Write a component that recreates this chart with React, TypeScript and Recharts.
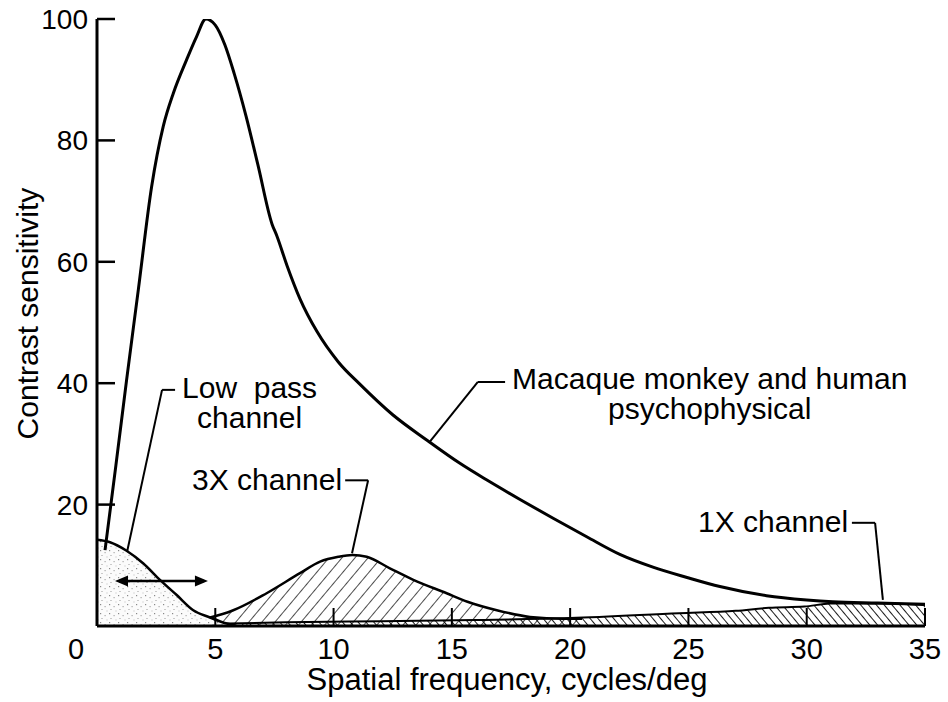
import React from 'react';
import { ComposedChart, Line, Area, XAxis, YAxis, ReferenceLine, ReferenceDot } from 'recharts';

const FONT = '"Liberation Sans", Arial, Helvetica, sans-serif';

// Axis ticks
const xTicks = [0, 5, 10, 15, 20, 25, 30, 35];
const yTicks = [20, 40, 60, 80, 100];

// Macaque monkey and human psychophysical
const macaqueX = [0.34, 0.8, 1.25, 1.75, 2.31, 2.8, 3.23, 3.79, 4.21, 4.6, 5.0, 5.4, 5.8, 6.3, 6.8, 7.4, 7.6, 8.03, 8.58, 9.3, 10.2, 11.12, 12.5, 13.95, 15.34, 16.5, 17.9, 19.3, 20.7, 22.1, 23.5, 24.94, 26.33, 28.3, 30, 31.1, 33, 35];
const macaqueY = [12.5, 26.5, 40.5, 55.5, 72.4, 82.3, 87.8, 93.3, 97.1, 100, 99, 95.8, 91, 84, 76, 66.2, 64.3, 59.4, 53.9, 48.5, 43.5, 39.8, 34.8, 30.6, 26.8, 24.0, 20.8, 17.7, 14.7, 11.8, 9.7, 8.0, 6.5, 5.0, 4.3, 4.0, 3.8, 3.6];

// Low pass channel
const lowPassX = [0, 0.55, 1.25, 1.96, 2.66, 3.37, 4.07, 4.78, 5.48, 5.9];
const lowPassY = [14.2, 13.8, 12.4, 10.3, 7.6, 5.1, 2.6, 1.4, 0.4, 0];

// 3X channel
const x3X = [2.5, 3.5, 4.78, 5.76, 7.17, 8.58, 9.43, 10.2, 10.8, 11.4, 12.38, 13.37, 14.78, 15.66, 16.9, 18.3, 19.7, 20.5];
const y3X = [0, 0.5, 1.4, 2.6, 5.4, 8.7, 10.6, 11.4, 11.7, 11.4, 9.5, 7.6, 5.4, 4.0, 2.6, 1.5, 1.2, 1.2];

// 1X channel
const x1X = [4, 8, 12, 16, 20, 24.6, 27, 28.4, 29.9, 31, 33, 34.8, 35];
const y1X = [0.3, 0.6, 0.8, 1.0, 1.3, 2.1, 2.5, 3.0, 3.2, 3.7, 3.7, 3.5, 3.4];

// Annotation texts (data coordinates)
const annotationTexts = [
  { x: 6.45, y: 37.6, anchor: 'middle', lines: ['Low  pass', 'channel'] },
  { x: 25.9, y: 39.1, anchor: 'middle', lines: ['Macaque monkey and human', 'psychophysical'] },
  { x: 10.36, y: 22.4, anchor: 'end', lines: ['3X channel'] },
  { x: 31.75, y: 15.5, anchor: 'end', lines: ['1X channel'] },
];

// Leader lines (data coordinates)
const leaderLines = [
  [{ x: 3.3, y: 38.9 }, { x: 2.75, y: 38.9 }, { x: 1.27, y: 12.2 }],
  [{ x: 17.25, y: 40.2 }, { x: 16.1, y: 40.2 }, { x: 14.08, y: 30.4 }],
  [{ x: 10.49, y: 24.0 }, { x: 11.46, y: 24.0 }, { x: 10.78, y: 12.0 }],
  [{ x: 31.91, y: 17.0 }, { x: 32.89, y: 17.0 }, { x: 33.22, y: 4.3 }],
];

// Double arrow under low pass channel
const arrowSegment = [{ x: 0.76, y: 7.4 }, { x: 4.69, y: 7.4 }];

const zip = (xs: number[], ys: number[]) => xs.map((x, i) => ({ x, y: ys[i] }));
const macaqueData = zip(macaqueX, macaqueY);
const lowPassData = zip(lowPassX, lowPassY);
const data3X = zip(x3X, y3X);
const data1X = zip(x1X, y1X);

const XTick = (props: any) => {
  const { x, y, payload } = props;
  const v = payload.value;
  const axisY = y - 12;
  return (
    <g>
      {v !== 0 && <line x1={x} x2={x} y1={axisY} y2={axisY - 18} stroke="#000" strokeWidth={2} />}
      <text x={x + (v === 0 ? -21 : 0)} y={y} dy="0.71em" textAnchor="middle" fontSize={29} fontFamily={FONT} fill="#000">
        {v}
      </text>
    </g>
  );
};

const YTick = (props: any) => {
  const { x, y, payload } = props;
  return (
    <g>
      <line x1={x + 9} x2={x + 27} y1={y} y2={y} stroke="#000" strokeWidth={2.5} />
      <text x={x} y={y} dy="0.355em" textAnchor="end" fontSize={28} fontFamily={FONT} fill="#000">
        {payload.value}
      </text>
    </g>
  );
};

const YLabel = (props: any) => {
  const vb = props.viewBox;
  const cx = vb.x + 38;
  const cy = vb.y + vb.height / 2 - 9;
  return (
    <text x={cx} y={cy} transform={`rotate(-90 ${cx} ${cy})`} textAnchor="middle" fontSize={30} fontFamily={FONT} fill="#000">
      Contrast sensitivity
    </text>
  );
};

const XLabel = (props: any) => {
  const vb = props.viewBox;
  const cx = vb.x + vb.width / 2 - 4;
  const cy = vb.y + 64;
  return (
    <text x={cx} y={cy} textAnchor="middle" fontSize={31} fontFamily={FONT} fill="#000">
      Spatial frequency, cycles/deg
    </text>
  );
};

const makeTextShape = (lines: string[], anchor: string) => (p: any) => (
  <text x={p.cx} y={p.cy} textAnchor={anchor} fontSize={30} fontFamily={FONT} fill="#000">
    {lines.map((l, i) => (
      <tspan key={i} x={p.cx} dy={i === 0 ? 0 : 30} style={{ whiteSpace: 'pre' }}>
        {l}
      </tspan>
    ))}
  </text>
);

const ArrowShape = (p: any) => {
  const { x1, y1, x2, y2 } = p;
  const h = 13;
  const w = 5.5;
  return (
    <g>
      <line x1={x1 + 4} y1={y1} x2={x2 - 4} y2={y2} stroke="#000" strokeWidth={2.5} />
      <path d={`M${x1},${y1} L${x1 + h},${y1 - w} L${x1 + h},${y1 + w} Z`} fill="#000" />
      <path d={`M${x2},${y2} L${x2 - h},${y2 - w} L${x2 - h},${y2 + w} Z`} fill="#000" />
    </g>
  );
};

function XLabelWrapper(props: any) {
  return <XLabel {...props} />;
}
function YLabelWrapper(props: any) {
  return <YLabel {...props} />;
}

export default function App() {
  return (
    <div style={{ position: 'absolute', left: 0, top: 0, background: '#fff' }}>
      <ComposedChart width={948} height={702} margin={{ top: 19, right: 23, bottom: 16, left: 0 }}>
        <defs>
          <pattern id="stipple" width="9" height="9" patternUnits="userSpaceOnUse">
            <rect width="9" height="9" fill="#fbfbfb" />
            <rect x="1" y="1" width="1.2" height="1.2" fill="#888" />
            <rect x="5.5" y="3" width="1.2" height="1.2" fill="#aaa" />
            <rect x="2.5" y="6" width="1" height="1" fill="#999" />
            <rect x="7.5" y="7.5" width="1" height="1" fill="#bbb" />
          </pattern>
          <pattern id="hatch3x" width="10" height="10" patternUnits="userSpaceOnUse" patternTransform="rotate(40)">
            <line x1="0" y1="0" x2="0" y2="10" stroke="#000" strokeWidth="1.4" />
          </pattern>
          <pattern id="hatch1x" width="6" height="6" patternUnits="userSpaceOnUse" patternTransform="rotate(-40)">
            <line x1="0" y1="0" x2="0" y2="6" stroke="#000" strokeWidth="1.8" />
          </pattern>
        </defs>

        <Area data={data1X} dataKey="y" type="monotone" stroke="#000" strokeWidth={2} fill="url(#hatch1x)" fillOpacity={1} isAnimationActive={false} />
        <Area data={data3X} dataKey="y" type="monotone" stroke="#000" strokeWidth={2.5} fill="url(#hatch3x)" fillOpacity={1} isAnimationActive={false} />
        <Area data={lowPassData} dataKey="y" type="monotone" stroke="#000" strokeWidth={2.5} fill="url(#stipple)" fillOpacity={1} isAnimationActive={false} />
        <Line data={macaqueData} dataKey="y" type="monotone" stroke="#000" strokeWidth={3} dot={false} isAnimationActive={false} />

        <XAxis
          type="number"
          dataKey="x"
          domain={[0, 35]}
          ticks={xTicks}
          interval={0}
          allowDataOverflow
          tickSize={0}
          tickMargin={12}
          height={60}
          axisLine={{ stroke: '#000', strokeWidth: 3 }}
          tick={<XTick />}
          label={<XLabelWrapper />}
        />
        <YAxis
          type="number"
          domain={[0, 100]}
          ticks={yTicks}
          interval={0}
          allowDataOverflow
          tickSize={0}
          tickMargin={9}
          width={97}
          axisLine={{ stroke: '#000', strokeWidth: 3 }}
          tick={<YTick />}
          label={<YLabelWrapper />}
        />

        {leaderLines.flatMap((pts, i) =>
          pts.slice(1).map((p, j) => (
            <ReferenceLine key={`l${i}-${j}`} segment={[pts[j], p]} stroke="#000" strokeWidth={2} />
          ))
        )}
        <ReferenceLine segment={arrowSegment} shape={ArrowShape} />
        {annotationTexts.map((t, i) => (
          <ReferenceDot key={`t${i}`} x={t.x} y={t.y} r={1} shape={makeTextShape(t.lines, t.anchor)} />
        ))}
      </ComposedChart>
    </div>
  );
}
